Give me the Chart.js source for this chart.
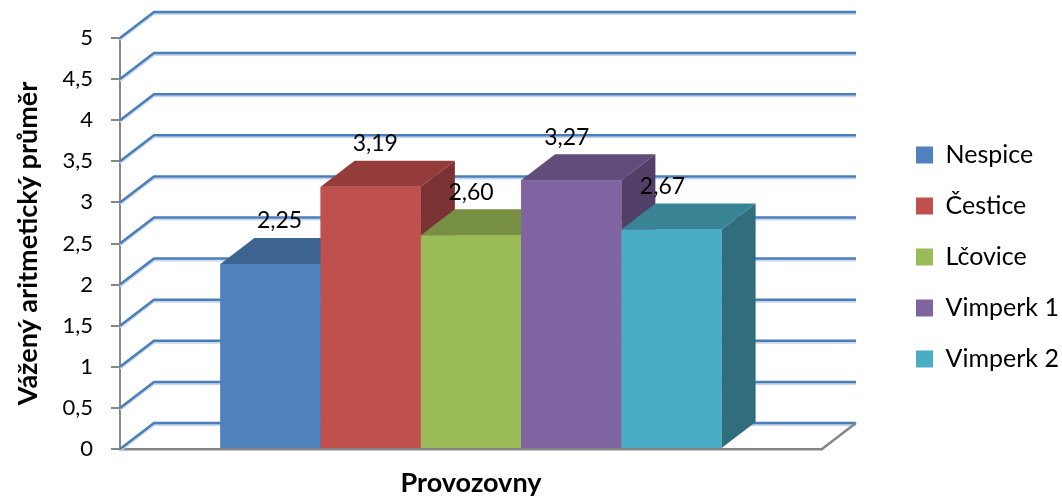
<!DOCTYPE html>
<html>
<head>
<meta charset="utf-8">
<script src="https://cdn.jsdelivr.net/npm/chart.js@4/dist/chart.umd.min.js"></script>
<style>
  html, body { margin: 0; padding: 0; background: #ffffff; }
  #wrap { width: 1062px; height: 497px; }
</style>
</head>
<body>
<div id="wrap"><canvas id="chart" width="1062" height="497"></canvas></div>
<script>
// Data
const categoryLabels = [''];
const seriesNames = ['Nespice', 'Čestice', 'Lčovice', 'Vimperk 1', 'Vimperk 2'];
const nespice = [2.25];
const cestice = [3.19];
const lcovice = [2.60];
const vimperk1 = [3.27];
const vimperk2 = [2.67];
const yTickValues = [0, 0.5, 1, 1.5, 2, 2.5, 3, 3.5, 4, 4.5, 5];
const xTitle = 'Provozovny';
const yTitle = 'Vážený aritmetický průměr';

// Styles
const frontColors = ['#4f81bd', '#c0504d', '#9bbb59', '#8064a2', '#4bacc6'];
const topColors   = ['#3d6491', '#943c3a', '#778f43', '#614c7c', '#388394'];
const sideColors  = ['#34567e', '#7b3232', '#637a36', '#523f68', '#316e7d'];
const DEPTH_X = 34, DEPTH_Y = -26;
const FONT = 'Lato';

Chart.defaults.font.family = FONT;
Chart.defaults.color = '#000000';

const fmt = v => v.toFixed(2).replace('.', ',');
const fmtTick = v => String(v).replace('.', ',');

// Back wall, left wall and floor of the 3D box, plus bar tops/sides and value labels
const wallPlugin = {
  id: 'walls3d',
  beforeDatasetsDraw(chart) {
    const { ctx, chartArea: a, scales: { y } } = chart;
    ctx.save();
    ctx.lineCap = 'butt';
    ctx.lineJoin = 'miter';
    yTickValues.forEach(v => {
      const py = y.getPixelForValue(v);
      ctx.strokeStyle = '#c8d6ea';
      ctx.lineWidth = 2;
      ctx.beginPath();
      ctx.moveTo(a.left, py + 2);
      ctx.lineTo(a.left + DEPTH_X, py + DEPTH_Y + 2);
      ctx.lineTo(a.right + DEPTH_X, py + DEPTH_Y + 2);
      ctx.stroke();
      ctx.strokeStyle = '#4a7ebb';
      ctx.lineWidth = 2.5;
      ctx.beginPath();
      ctx.moveTo(a.left, py);
      ctx.lineTo(a.left + DEPTH_X, py + DEPTH_Y);
      ctx.lineTo(a.right + DEPTH_X, py + DEPTH_Y);
      ctx.stroke();
    });
    const p0 = y.getPixelForValue(0);
    ctx.strokeStyle = '#868686';
    ctx.lineWidth = 2.5;
    ctx.beginPath();
    ctx.moveTo(a.right, p0);
    ctx.lineTo(a.right + DEPTH_X, p0 + DEPTH_Y);
    ctx.stroke();
    ctx.restore();
  },
  afterDatasetsDraw(chart) {
    const { ctx } = chart;
    ctx.save();
    // draw left to right: side, top, then front face on top
    chart.data.datasets.forEach((ds, i) => {
      const meta = chart.getDatasetMeta(i);
      meta.data.forEach(bar => {
        const { x, y, width, base } = bar.getProps(['x', 'y', 'width', 'base'], true);
        const l = x - width / 2, r = x + width / 2;
        ctx.fillStyle = sideColors[i];
        ctx.beginPath();
        ctx.moveTo(r, y);
        ctx.lineTo(r + DEPTH_X, y + DEPTH_Y);
        ctx.lineTo(r + DEPTH_X, base + DEPTH_Y);
        ctx.lineTo(r, base);
        ctx.closePath();
        ctx.fill();
        ctx.fillStyle = topColors[i];
        ctx.beginPath();
        ctx.moveTo(l, y);
        ctx.lineTo(l + DEPTH_X, y + DEPTH_Y);
        ctx.lineTo(r + DEPTH_X, y + DEPTH_Y);
        ctx.lineTo(r, y);
        ctx.closePath();
        ctx.fill();
        bar.draw(ctx, chart.chartArea);
      });
    });
    // value labels
    ctx.fillStyle = '#000000';
    ctx.font = '23px ' + FONT;
    ctx.textAlign = 'center';
    ctx.textBaseline = 'middle';
    const n = chart.data.datasets.length;
    chart.data.datasets.forEach((ds, i) => {
      const meta = chart.getDatasetMeta(i);
      meta.data.forEach((bar, j) => {
        const { x, y } = bar.getProps(['x', 'y'], true);
        const shift = ((n - 1) / 2 - i) * 4.5;
        ctx.fillText(fmt(ds.data[j]), x + shift, y - 43);
      });
    });
    ctx.restore();
  }
};

const seriesData = [nespice, cestice, lcovice, vimperk1, vimperk2];

new Chart(document.getElementById('chart'), {
  type: 'bar',
  data: {
    labels: categoryLabels,
    datasets: seriesNames.map((name, i) => ({
      label: name,
      data: seriesData[i],
      backgroundColor: frontColors[i],
      borderWidth: 0,
      categoryPercentage: 0.714,
      barPercentage: 1.0
    }))
  },
  options: {
    responsive: false,
    animation: false,
    devicePixelRatio: 1,
    layout: { padding: { top: 17, bottom: 0, left: 0, right: -6 } },
    plugins: {
      legend: {
        position: 'right',
        align: 'center',
        labels: {
          boxWidth: 17,
          boxHeight: 17,
          padding: 26,
          color: '#000000',
          font: { family: FONT, size: 25 }
        }
      },
      tooltip: { enabled: false }
    },
    scales: {
      x: {
        position: 'bottom',
        grid: { display: false, drawTicks: false },
        border: { display: true, color: '#868686', width: 2.5 },
        ticks: { display: false },
        title: {
          display: true,
          text: xTitle,
          color: '#000000',
          font: { family: FONT, size: 27, weight: 'bold', lineHeight: 1 },
          padding: { top: 0, bottom: 0.5 }
        },
        afterFit(scale) { scale.height = 48; }
      },
      xTop: {
        position: 'top',
        type: 'category',
        display: true,
        grid: { display: false, drawTicks: false },
        border: { display: false },
        ticks: { display: false },
        afterFit(scale) { scale.height = 21; }
      },
      y: {
        min: 0,
        max: 5,
        position: 'left',
        afterBuildTicks(scale) { scale.ticks = yTickValues.map(v => ({ value: v })); },
        ticks: {
          padding: 18,
          color: '#000000',
          font: { family: FONT, size: 22 },
          callback: v => fmtTick(v)
        },
        grid: {
          drawOnChartArea: false,
          drawTicks: true,
          tickLength: 9,
          color: '#868686',
          lineWidth: 2
        },
        border: { display: true, color: '#868686', width: 2 },
        title: {
          display: true,
          text: yTitle,
          color: '#000000',
          font: { family: FONT, size: 27, weight: 'bold', lineHeight: 1 },
          padding: { top: 14.5, bottom: 0 }
        },
        afterFit(scale) { scale.width = 120; }
      },
      yRight: {
        position: 'right',
        type: 'linear',
        display: true,
        grid: { display: false, drawTicks: false },
        border: { display: false },
        ticks: { display: false },
        afterFit(scale) { scale.width = 68; }
      }
    }
  },
  plugins: [wallPlugin]
});
</script>
</body>
</html>
